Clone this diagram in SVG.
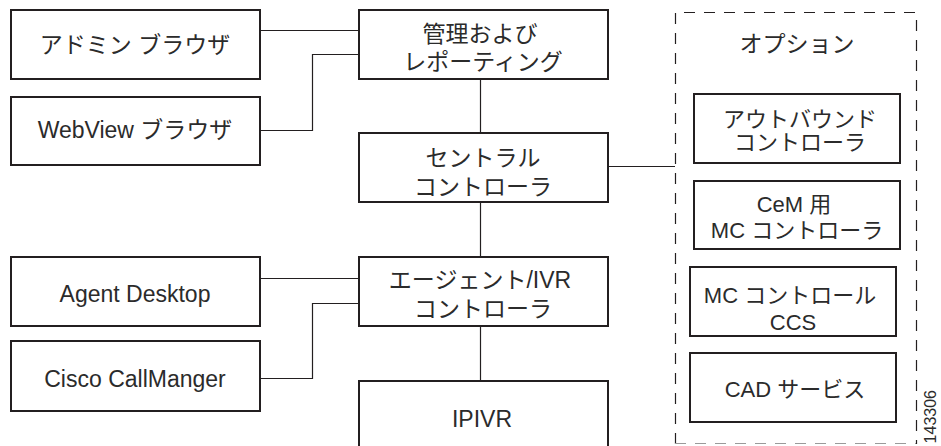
<svg xmlns="http://www.w3.org/2000/svg" width="941" height="446" viewBox="0 0 941 446">
<style>
.box{fill:#fff;stroke:#231f20;stroke-width:2}
.ln{fill:none;stroke:#231f20;stroke-width:1.2}
.dash{fill:none;stroke:#231f20;stroke-width:1.2;stroke-dasharray:11 9}
text{font-family:"Liberation Sans","Noto Sans CJK JP",sans-serif;fill:#2b2b2b;text-anchor:middle}
.t{font-size:23px}
.s{font-size:22px}
.id{font-size:16px;text-anchor:end}
</style>
<rect width="941" height="446" fill="#fff"/>
<g id="connectors">
<line class="ln" x1="260" y1="30.5" x2="359" y2="30.5"/>
<polyline class="ln" points="260,130.5 312.5,130.5 312.5,54.5 359,54.5"/>
<line class="ln" x1="260" y1="278.5" x2="359" y2="278.5"/>
<polyline class="ln" points="260,378.5 312.5,378.5 312.5,303.5 359,303.5"/>
<line class="ln" x1="480.5" y1="79" x2="480.5" y2="133"/>
<line class="ln" x1="480.5" y1="202" x2="480.5" y2="257"/>
<line class="ln" x1="480.5" y1="326" x2="480.5" y2="381"/>
<line class="ln" x1="608" y1="166.5" x2="675" y2="166.5"/>
</g>
<g id="options">
<path class="dash" d="M675.5,444 V12.5 H916.5 V444"/>
<line x1="675" y1="443.5" x2="916" y2="443.5" stroke="#9a9a9a" stroke-width="1.2" stroke-dasharray="11 9"/>
<text class="t" x="797" y="52">オプション</text>
</g>
<g id="admin">
<rect class="box" x="11" y="10" width="249" height="69"/>
<text class="t" x="135" y="53">アドミン ブラウザ</text>
</g>
<g id="webview">
<rect class="box" x="11" y="97" width="249" height="68"/>
<text class="t" x="135" y="138">WebView ブラウザ</text>
</g>
<g id="mgmt">
<rect class="box" x="359" y="10" width="249" height="69"/>
<text class="t" x="480" y="42">管理および</text>
<text class="t" x="483" y="70">レポーティング</text>
</g>
<g id="central">
<rect class="box" x="359" y="133" width="249" height="69"/>
<text class="t" x="483" y="166">セントラル</text>
<text class="t" x="483" y="195">コントローラ</text>
</g>
<g id="agentdesktop">
<rect class="box" x="11" y="257" width="249" height="69"/>
<text class="t" x="135" y="302">Agent Desktop</text>
</g>
<g id="callmanager">
<rect class="box" x="11" y="341" width="249" height="70"/>
<text class="t" x="135" y="387">Cisco CallManger</text>
</g>
<g id="agentivr">
<rect class="box" x="359" y="257" width="249" height="69"/>
<text class="t" x="480" y="288">エージェント/IVR</text>
<text class="t" x="483" y="317">コントローラ</text>
</g>
<g id="ipivr">
<path class="box" d="M359,450 V381 H608 V450"/>
<text class="t" x="482" y="427">IPIVR</text>
</g>
<g id="outbound">
<rect class="box" x="694" y="94" width="206" height="69"/>
<text class="s" x="800" y="127">アウトバウンド</text>
<text class="s" x="800" y="150">コントローラ</text>
</g>
<g id="cem">
<rect class="box" x="694" y="181" width="206" height="68"/>
<text class="s" x="794" y="212">CeM 用</text>
<text class="s" x="797" y="238">MC コントローラ</text>
</g>
<g id="mccontrol">
<rect class="box" x="690" y="267" width="206" height="69"/>
<text class="s" x="790" y="303">MC コントロール</text>
<text class="s" x="793" y="330">CCS</text>
</g>
<g id="cad">
<rect class="box" x="690" y="353" width="206" height="69"/>
<text class="s" x="795" y="397">CAD サービス</text>
</g>
<text class="id" transform="translate(936,390) rotate(-90)">143306</text>
</svg>
